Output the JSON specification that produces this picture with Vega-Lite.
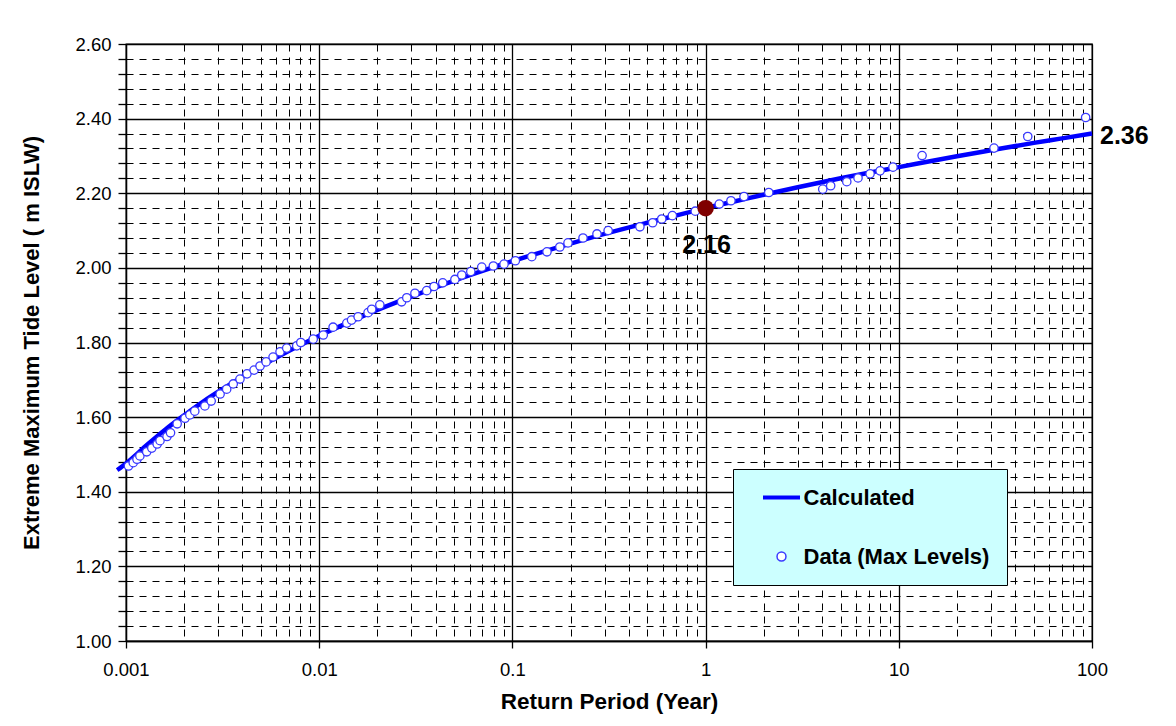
{
  "$schema": "https://vega.github.io/schema/vega-lite/v6.json",
  "width": 966,
  "height": 597,
  "autosize": "none",
  "padding": {"left": 126, "top": 44, "right": 84, "bottom": 85},
  "background": "#ffffff",
  "config": {
    "view": {"stroke": "#000000", "strokeWidth": 1.3},
    "font": "Liberation Sans"
  },
  "datasets": {
    "curve": [
      {"T": 0.0009, "v": 1.458, "series": "Calculated"},
      {"T": 0.001, "v": 1.476, "series": "Calculated"},
      {"T": 0.0013, "v": 1.528, "series": "Calculated"},
      {"T": 0.0016, "v": 1.567, "series": "Calculated"},
      {"T": 0.002, "v": 1.605, "series": "Calculated"},
      {"T": 0.0025, "v": 1.641, "series": "Calculated"},
      {"T": 0.0032, "v": 1.677, "series": "Calculated"},
      {"T": 0.004, "v": 1.708, "series": "Calculated"},
      {"T": 0.005, "v": 1.737, "series": "Calculated"},
      {"T": 0.0065, "v": 1.769, "series": "Calculated"},
      {"T": 0.008, "v": 1.793, "series": "Calculated"},
      {"T": 0.01, "v": 1.818, "series": "Calculated"},
      {"T": 0.015, "v": 1.859, "series": "Calculated"},
      {"T": 0.02, "v": 1.887, "series": "Calculated"},
      {"T": 0.03, "v": 1.923, "series": "Calculated"},
      {"T": 0.05, "v": 1.966, "series": "Calculated"},
      {"T": 0.07, "v": 1.992, "series": "Calculated"},
      {"T": 0.1, "v": 2.018, "series": "Calculated"},
      {"T": 0.2, "v": 2.065, "series": "Calculated"},
      {"T": 0.3, "v": 2.091, "series": "Calculated"},
      {"T": 0.5, "v": 2.121, "series": "Calculated"},
      {"T": 0.7, "v": 2.14, "series": "Calculated"},
      {"T": 1, "v": 2.16, "series": "Calculated"},
      {"T": 2, "v": 2.196, "series": "Calculated"},
      {"T": 3, "v": 2.216, "series": "Calculated"},
      {"T": 5, "v": 2.24, "series": "Calculated"},
      {"T": 7, "v": 2.255, "series": "Calculated"},
      {"T": 10, "v": 2.27, "series": "Calculated"},
      {"T": 20, "v": 2.299, "series": "Calculated"},
      {"T": 30, "v": 2.315, "series": "Calculated"},
      {"T": 50, "v": 2.335, "series": "Calculated"},
      {"T": 70, "v": 2.347, "series": "Calculated"},
      {"T": 100, "v": 2.36, "series": "Calculated"}
    ],
    "obs": [
      {"T": 0.00103, "v": 1.469, "series": "Data (Max Levels)"},
      {"T": 0.00109, "v": 1.478, "series": "Data (Max Levels)"},
      {"T": 0.00114, "v": 1.487, "series": "Data (Max Levels)"},
      {"T": 0.00118, "v": 1.496, "series": "Data (Max Levels)"},
      {"T": 0.00128, "v": 1.507, "series": "Data (Max Levels)"},
      {"T": 0.00136, "v": 1.517, "series": "Data (Max Levels)"},
      {"T": 0.00145, "v": 1.528, "series": "Data (Max Levels)"},
      {"T": 0.0015, "v": 1.537, "series": "Data (Max Levels)"},
      {"T": 0.00163, "v": 1.548, "series": "Data (Max Levels)"},
      {"T": 0.0017, "v": 1.558, "series": "Data (Max Levels)"},
      {"T": 0.00184, "v": 1.582, "series": "Data (Max Levels)"},
      {"T": 0.00202, "v": 1.597, "series": "Data (Max Levels)"},
      {"T": 0.00214, "v": 1.606, "series": "Data (Max Levels)"},
      {"T": 0.00227, "v": 1.616, "series": "Data (Max Levels)"},
      {"T": 0.00256, "v": 1.63, "series": "Data (Max Levels)"},
      {"T": 0.00276, "v": 1.643, "series": "Data (Max Levels)"},
      {"T": 0.00307, "v": 1.662, "series": "Data (Max Levels)"},
      {"T": 0.00332, "v": 1.675, "series": "Data (Max Levels)"},
      {"T": 0.00359, "v": 1.689, "series": "Data (Max Levels)"},
      {"T": 0.00389, "v": 1.702, "series": "Data (Max Levels)"},
      {"T": 0.00423, "v": 1.716, "series": "Data (Max Levels)"},
      {"T": 0.0046, "v": 1.726, "series": "Data (Max Levels)"},
      {"T": 0.00494, "v": 1.737, "series": "Data (Max Levels)"},
      {"T": 0.00531, "v": 1.748, "series": "Data (Max Levels)"},
      {"T": 0.00577, "v": 1.761, "series": "Data (Max Levels)"},
      {"T": 0.00627, "v": 1.775, "series": "Data (Max Levels)"},
      {"T": 0.00679, "v": 1.785, "series": "Data (Max Levels)"},
      {"T": 0.00765, "v": 1.791, "series": "Data (Max Levels)"},
      {"T": 0.00803, "v": 1.8, "series": "Data (Max Levels)"},
      {"T": 0.00931, "v": 1.809, "series": "Data (Max Levels)"},
      {"T": 0.0105, "v": 1.82, "series": "Data (Max Levels)"},
      {"T": 0.0118, "v": 1.841, "series": "Data (Max Levels)"},
      {"T": 0.0139, "v": 1.852, "series": "Data (Max Levels)"},
      {"T": 0.0147, "v": 1.86, "series": "Data (Max Levels)"},
      {"T": 0.0159, "v": 1.869, "series": "Data (Max Levels)"},
      {"T": 0.0179, "v": 1.88, "series": "Data (Max Levels)"},
      {"T": 0.0187, "v": 1.889, "series": "Data (Max Levels)"},
      {"T": 0.0206, "v": 1.901, "series": "Data (Max Levels)"},
      {"T": 0.0267, "v": 1.909, "series": "Data (Max Levels)"},
      {"T": 0.0284, "v": 1.92, "series": "Data (Max Levels)"},
      {"T": 0.0313, "v": 1.932, "series": "Data (Max Levels)"},
      {"T": 0.036, "v": 1.939, "series": "Data (Max Levels)"},
      {"T": 0.0393, "v": 1.95, "series": "Data (Max Levels)"},
      {"T": 0.0436, "v": 1.96, "series": "Data (Max Levels)"},
      {"T": 0.0504, "v": 1.969, "series": "Data (Max Levels)"},
      {"T": 0.0547, "v": 1.981, "series": "Data (Max Levels)"},
      {"T": 0.0609, "v": 1.99, "series": "Data (Max Levels)"},
      {"T": 0.0694, "v": 2.002, "series": "Data (Max Levels)"},
      {"T": 0.0797, "v": 2.005, "series": "Data (Max Levels)"},
      {"T": 0.0905, "v": 2.01, "series": "Data (Max Levels)"},
      {"T": 0.1036, "v": 2.019, "series": "Data (Max Levels)"},
      {"T": 0.126, "v": 2.03, "series": "Data (Max Levels)"},
      {"T": 0.151, "v": 2.043, "series": "Data (Max Levels)"},
      {"T": 0.176, "v": 2.056, "series": "Data (Max Levels)"},
      {"T": 0.194, "v": 2.067, "series": "Data (Max Levels)"},
      {"T": 0.232, "v": 2.08, "series": "Data (Max Levels)"},
      {"T": 0.274, "v": 2.091, "series": "Data (Max Levels)"},
      {"T": 0.313, "v": 2.1, "series": "Data (Max Levels)"},
      {"T": 0.457, "v": 2.11, "series": "Data (Max Levels)"},
      {"T": 0.532, "v": 2.121, "series": "Data (Max Levels)"},
      {"T": 0.593, "v": 2.131, "series": "Data (Max Levels)"},
      {"T": 0.673, "v": 2.14, "series": "Data (Max Levels)"},
      {"T": 0.884, "v": 2.152, "series": "Data (Max Levels)"},
      {"T": 1.177, "v": 2.171, "series": "Data (Max Levels)"},
      {"T": 1.353, "v": 2.18, "series": "Data (Max Levels)"},
      {"T": 1.58, "v": 2.191, "series": "Data (Max Levels)"},
      {"T": 2.123, "v": 2.202, "series": "Data (Max Levels)"},
      {"T": 4.04, "v": 2.211, "series": "Data (Max Levels)"},
      {"T": 4.44, "v": 2.22, "series": "Data (Max Levels)"},
      {"T": 5.38, "v": 2.231, "series": "Data (Max Levels)"},
      {"T": 6.15, "v": 2.241, "series": "Data (Max Levels)"},
      {"T": 7.1, "v": 2.252, "series": "Data (Max Levels)"},
      {"T": 8.0, "v": 2.26, "series": "Data (Max Levels)"},
      {"T": 9.33, "v": 2.27, "series": "Data (Max Levels)"},
      {"T": 13.2, "v": 2.301, "series": "Data (Max Levels)"},
      {"T": 31.1, "v": 2.321, "series": "Data (Max Levels)"},
      {"T": 46.5, "v": 2.352, "series": "Data (Max Levels)"},
      {"T": 92.7, "v": 2.403, "series": "Data (Max Levels)"}
    ],
    "mark1": [{"T": 1, "v": 2.16, "label": "2.16"}],
    "mark100": [{"T": 100, "v": 2.36, "label": "2.36"}]
  },
  "layer": [
    {
      "data": {"name": "curve"},
      "mark": {"type": "line", "strokeWidth": 4.5, "interpolate": "monotone", "clip": false},
      "encoding": {
        "x": {
          "field": "T", "type": "quantitative",
          "scale": {"type": "log", "domain": [0.001, 100], "nice": false},
          "axis": {
            "title": "Return Period (Year)",
            "values": [0.001,0.002,0.003,0.004,0.005,0.006,0.007,0.008,0.009,0.01,0.02,0.03,0.04,0.05,0.06,0.07,0.08,0.09,0.1,0.2,0.3,0.4,0.5,0.6,0.7,0.8,0.9,1,2,3,4,5,6,7,8,9,10,20,30,40,50,60,70,80,90,100],
            "tickCount": 200,
            "format": "~g",
            "labelExpr": "abs(log(datum.value)/LN10 - round(log(datum.value)/LN10)) < 1e-6 ? datum.label : ''",
            "labelOverlap": false,
            "labelFlush": false,
            "labelBound": false,
            "grid": true,
            "gridColor": "#000000",
            "gridOpacity": 1,
            "gridDash": {"condition": {"test": "abs(log(datum.value)/LN10 - round(log(datum.value)/LN10)) < 1e-6", "value": []}, "value": [7, 6]},
            "gridWidth": {"condition": {"test": "abs(log(datum.value)/LN10 - round(log(datum.value)/LN10)) < 1e-6", "value": 1.3}, "value": 1},
            "tickSize": {"condition": {"test": "abs(log(datum.value)/LN10 - round(log(datum.value)/LN10)) < 1e-6", "value": 7}, "value": 0},
            "tickColor": "#000000",
            "tickWidth": 1.3,
            "domainColor": "#000000",
            "domainWidth": 1.3,
            "labelFont": "Liberation Sans",
            "labelFontSize": 18.5,
            "labelColor": "#000000",
            "labelPadding": 12,
            "titleFont": "Liberation Sans",
            "titleFontSize": 22.5,
            "titleFontWeight": "bold",
            "titleColor": "#000000",
            "titlePadding": 12
          }
        },
        "y": {
          "field": "v", "type": "quantitative",
          "scale": {"domain": [1, 2.6], "nice": false, "zero": false},
          "axis": {
            "title": "Extreme Maximum Tide Level ( m ISLW)",
            "values": [1,1.04,1.08,1.12,1.16,1.2,1.24,1.28,1.32,1.36,1.4,1.44,1.48,1.52,1.56,1.6,1.64,1.68,1.72,1.76,1.8,1.84,1.88,1.92,1.96,2,2.04,2.08,2.12,2.16,2.2,2.24,2.28,2.32,2.36,2.4,2.44,2.48,2.52,2.56,2.6],
            "tickCount": 200,
            "format": ".2f",
            "labelExpr": "abs(datum.value*5 - round(datum.value*5)) < 1e-6 ? datum.label : ''",
            "labelOverlap": false,
            "labelFlush": false,
            "labelBound": false,
            "grid": true,
            "gridColor": "#000000",
            "gridOpacity": 1,
            "gridDash": {"condition": {"test": "abs(datum.value*5 - round(datum.value*5)) < 1e-6", "value": []}, "value": [7, 6]},
            "gridWidth": {"condition": {"test": "abs(datum.value*5 - round(datum.value*5)) < 1e-6", "value": 1.3}, "value": 1},
            "tickSize": 8,
            "tickColor": "#000000",
            "tickWidth": 1.3,
            "domainColor": "#000000",
            "domainWidth": 1.3,
            "labelFont": "Liberation Sans",
            "labelFontSize": 18.5,
            "labelColor": "#000000",
            "labelPadding": 7,
            "titleFont": "Liberation Sans",
            "titleFontSize": 22,
            "titleFontWeight": "bold",
            "titleColor": "#000000",
            "titlePadding": 31
          }
        },
        "stroke": {
          "field": "series", "type": "nominal",
          "scale": {"domain": ["Calculated", "Data (Max Levels)"], "range": ["#0000ff", "#3a3aff"]},
          "legend": {
            "title": null,
            "orient": "none",
            "legendX": 607,
            "legendY": 425,
            "fillColor": "#ccffff",
            "strokeColor": "#000000",
            "padding": 17.5,
            "symbolOffset": 20,
            "symbolType": "stroke",
            "symbolSize": 1369,
            "symbolStrokeWidth": 4,
            "rowPadding": 37,
            "labelFont": "Liberation Sans",
            "labelFontSize": 22,
            "labelFontWeight": "bold",
            "labelColor": "#000000",
            "labelOffset": 11,
            "labelLimit": 0,
            "labelExpr": "datum.label + '\u00a0\u00a0'",
            "encode": {
              "symbols": {
                "update": {
                  "shape": {"signal": "datum.value === 'Calculated' ? 'stroke' : 'circle'"},
                  "size": {"signal": "datum.value === 'Calculated' ? 1369 : 80"},
                  "strokeWidth": {"signal": "datum.value === 'Calculated' ? 4 : 1.5"},
                  "fill": {"signal": "datum.value === 'Calculated' ? 'transparent' : '#ffffff'"},
                  "opacity": {"value": 1}
                }
              }
            }
          }
        }
      }
    },
    {
      "data": {"name": "obs"},
      "mark": {"type": "point", "shape": "circle", "filled": false, "fill": "#ffffff", "fillOpacity": 1, "size": 70, "strokeWidth": 1.3, "opacity": 1},
      "encoding": {
        "x": {"field": "T", "type": "quantitative"},
        "y": {"field": "v", "type": "quantitative"},
        "stroke": {"field": "series", "type": "nominal"}
      }
    },
    {
      "data": {"name": "mark1"},
      "mark": {"type": "point", "shape": "circle", "filled": true, "color": "#7f0000", "size": 270, "opacity": 1},
      "encoding": {
        "x": {"field": "T", "type": "quantitative"},
        "y": {"field": "v", "type": "quantitative"}
      }
    },
    {
      "data": {"name": "mark1"},
      "mark": {"type": "text", "font": "Liberation Sans", "fontSize": 25, "fontWeight": "bold", "color": "#000000", "align": "center", "baseline": "middle", "dy": 37, "dx": 1},
      "encoding": {
        "x": {"field": "T", "type": "quantitative"},
        "y": {"field": "v", "type": "quantitative"},
        "text": {"field": "label"}
      }
    },
    {
      "data": {"name": "mark100"},
      "mark": {"type": "text", "font": "Liberation Sans", "fontSize": 25, "fontWeight": "bold", "color": "#000000", "align": "left", "baseline": "middle", "dx": 8, "dy": 2},
      "encoding": {
        "x": {"field": "T", "type": "quantitative"},
        "y": {"field": "v", "type": "quantitative"},
        "text": {"field": "label"}
      }
    }
  ]
}
